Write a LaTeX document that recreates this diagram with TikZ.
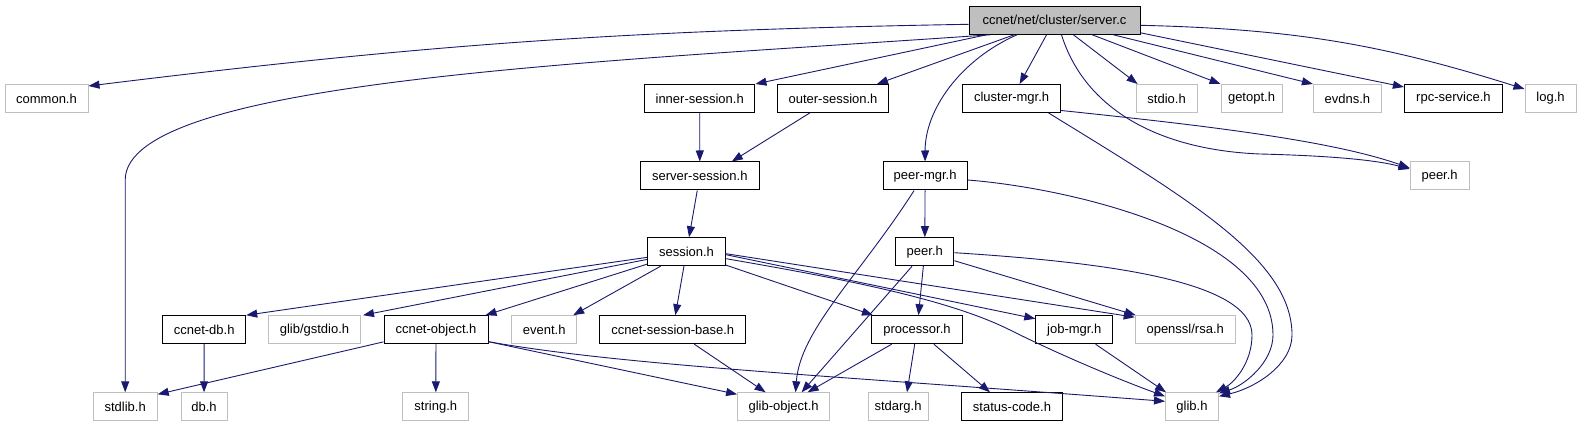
\documentclass[tikz,border=0pt]{standalone}
\usepackage{fontspec}
\setmainfont{Liberation Sans}
\usetikzlibrary{arrows.meta}
\definecolor{edgeblue}{HTML}{191970}
\definecolor{boxgray}{HTML}{BFBFBF}
\tikzset{
  hfile/.style={draw=black,line width=1pt,fill=white,minimum height=28pt,
    inner sep=0pt,font=\fontsize{13}{15}\selectfont},
  extfile/.style={hfile,draw=boxgray},
  mainfile/.style={hfile,fill=boxgray},
  dep/.style={->,draw=edgeblue,line width=0.9pt}
}

\begin{document}
\begin{tikzpicture}[x=1pt,y=1pt,>={Stealth[length=11pt,width=8pt,inset=0pt]}]
  \useasboundingbox (0,0) rectangle (1581,-427);
  % files
  \node[mainfile,minimum width=171pt] (serverc) at (1054.5,-20.3) {ccnet/net/cluster/server.c};
  \node[extfile,minimum width=83pt] (common) at (46.5,-98.5) {common.h};
  \node[hfile,minimum width=110.5pt] (inner) at (699.7,-98.5) {inner-session.h};
  \node[hfile,minimum width=111pt] (outer) at (833,-98.5) {outer-session.h};
  \node[hfile,minimum width=98pt] (clustermgr) at (1011.6,-98.5) {cluster-mgr.h};
  \node[extfile,minimum width=61pt] (stdio) at (1166.6,-98.5) {stdio.h};
  \node[extfile,minimum width=61pt] (getopt) at (1251.5,-98.5) {getopt.h};
  \node[extfile,minimum width=68pt] (evdns) at (1347.4,-98.5) {evdns.h};
  \node[hfile,minimum width=98pt] (rpc) at (1453.4,-98.5) {rpc-service.h};
  \node[extfile,minimum width=51pt] (log) at (1550.5,-98.5) {log.h};
  \node[hfile,minimum width=119pt] (srvsess) at (699.8,-176) {server-session.h};
  \node[hfile,minimum width=84pt] (peermgr) at (925.1,-176) {peer-mgr.h};
  \node[extfile,minimum width=59pt] (peerext) at (1439.6,-176) {peer.h};
  \node[hfile,minimum width=78pt] (session) at (686.5,-251.7) {session.h};
  \node[hfile,minimum width=58pt] (peer) at (924.8,-251.7) {peer.h};
  \node[hfile,minimum width=83pt] (ccnetdb) at (204.2,-329.7) {ccnet-db.h};
  \node[extfile,minimum width=92pt] (gstdio) at (314.5,-329.7) {glib/gstdio.h};
  \node[hfile,minimum width=104pt] (cobj) at (436,-329.7) {ccnet-object.h};
  \node[extfile,minimum width=65pt] (event) at (544.2,-329.7) {event.h};
  \node[hfile,minimum width=146pt] (sessbase) at (672.8,-329.7) {ccnet-session-base.h};
  \node[hfile,minimum width=91pt] (proc) at (917,-329.7) {processor.h};
  \node[hfile,minimum width=77pt] (jobmgr) at (1074.3,-329.7) {job-mgr.h};
  \node[extfile,minimum width=100pt] (rsa) at (1185.2,-329.7) {openssl/rsa.h};
  \node[extfile,minimum width=64pt] (stdlib) at (125.2,-406.8) {stdlib.h};
  \node[extfile,minimum width=46pt] (db) at (204,-406.8) {db.h};
  \node[extfile,minimum width=66pt] (string) at (435.8,-406.8) {string.h};
  \node[extfile,minimum width=92pt] (gobj) at (783.6,-406.8) {glib-object.h};
  \node[extfile,minimum width=60pt] (stdarg) at (898,-406.8) {stdarg.h};
  \node[hfile,minimum width=101pt] (status) at (1012,-406.8) {status-code.h};
  \node[extfile,minimum width=53pt] (glib) at (1192,-406.8) {glib.h};

  % includes of server.c
  \draw[dep] ([yshift=-4pt]serverc.west) to[bend right=3] ([yshift=-2pt]common.north east);
  \draw[dep] ([xshift=-64.7pt]serverc.south) .. controls (600,-62) and (125.2,-80) .. (125.2,-180) -- (stdlib);
  \draw[dep] (serverc) -- (inner.north east);
  \draw[dep] (serverc) -- ([xshift=-12pt]outer.north east);
  \draw[dep] ([xshift=-37.5pt]serverc.south) .. controls (960,-60) and (925,-110) .. (peermgr.north);
  \draw[dep] (serverc) -- ([xshift=8pt]clustermgr.north);
  \draw[dep] ([xshift=7pt]serverc.south) .. controls (1085,-110) and (1160,-150) .. (1260,-154)
    .. controls (1340,-156) and (1380,-161) .. ([yshift=7pt]peerext.west);
  \draw[dep] (serverc) -- ([xshift=2pt]stdio.north west);
  \draw[dep] (serverc) -- (getopt.north west);
  \draw[dep] (serverc) -- (evdns.north west);
  \draw[dep] ([yshift=2pt]serverc.south east) -- ([yshift=-3pt]rpc.north west);
  \draw[dep] ([yshift=-5pt]serverc.east) to[bend left=8] ([yshift=-5pt]log.north west);

  % second level
  \draw[dep] ([yshift=-12pt]clustermgr.east) .. controls (1200,-125) and (1330,-140) .. ([yshift=8pt]peerext.west);
  \draw[dep] ([xshift=37pt]clustermgr.south) .. controls (1190,-200) and (1292,-260) .. (1292,-335)
    .. controls (1292,-365) and (1255,-388) .. ([yshift=-4pt]glib.north east);
  \draw[dep] (inner) -- (srvsess);
  \draw[dep] (outer) -- ([xshift=-28pt]srvsess.north east);
  \draw[dep] (srvsess) -- (session);
  \draw[dep] (peermgr) -- (peer);
  \draw[dep] ([xshift=-11pt]peermgr.south) .. controls (860,-275) and (800,-330) .. ([xshift=12pt]gobj.north);
  \draw[dep] ([yshift=-4pt]peermgr.east) .. controls (1070,-188) and (1273,-235) .. (1273,-335)
    .. controls (1273,-362) and (1245,-385) .. ([yshift=-1pt]glib.north east);

  % session.h
  \draw[dep] (session) -- (ccnetdb.north east);
  \draw[dep] (session) -- ([xshift=2pt]gstdio.north east);
  \draw[dep] (session) -- ([xshift=-3pt]cobj.north east);
  \draw[dep] (session) -- ([xshift=-4pt]event.north east);
  \draw[dep] (session) -- (sessbase);
  \draw[dep] (session) -- ([xshift=2pt]proc.north west);
  \draw[dep] ([yshift=-3pt]session.east) -- ([yshift=11pt]jobmgr.west);
  \draw[dep] ([yshift=-2pt]session.east) -- ([yshift=-2pt]rsa.north west);
  \draw[dep] ([yshift=-7pt]session.east) .. controls (850,-280) and (950,-300) .. (1010,-330)
    .. controls (1060,-355) and (1120,-380) .. ([yshift=-4pt]glib.north west);

  % peer.h
  \draw[dep] (peer) -- ([xshift=18pt]gobj.north);
  \draw[dep] (peer) -- (proc);
  \draw[dep] ([yshift=-9pt]peer.east) -- ([xshift=1pt]rsa.north west);
  \draw[dep] ([yshift=-1pt]peer.east) .. controls (1100,-262) and (1252,-280) .. (1252,-335)
    .. controls (1252,-362) and (1235,-382) .. ([xshift=-3pt]glib.north east);

  % lower rows
  \draw[dep] (ccnetdb) -- (db);
  \draw[dep] (cobj) -- ([yshift=-2pt]stdlib.north east);
  \draw[dep] (cobj) -- (string);
  \draw[dep] ([yshift=-12pt]cobj.east) -- ([yshift=-2pt]gobj.north west);
  \draw[dep] ([yshift=-12pt]cobj.east) .. controls (620,-365) and (820,-375) .. ([yshift=-9pt]glib.north west);
  \draw[dep] (sessbase) -- ([xshift=-18pt]gobj.north);
  \draw[dep] (proc) -- ([xshift=24pt]gobj.north);
  \draw[dep] (proc) -- ([xshift=9pt]stdarg.north);
  \draw[dep] (proc) -- ([xshift=-22pt]status.north);
  \draw[dep] (jobmgr) -- ([xshift=1pt]glib.north west);
\end{tikzpicture}
\end{document}
